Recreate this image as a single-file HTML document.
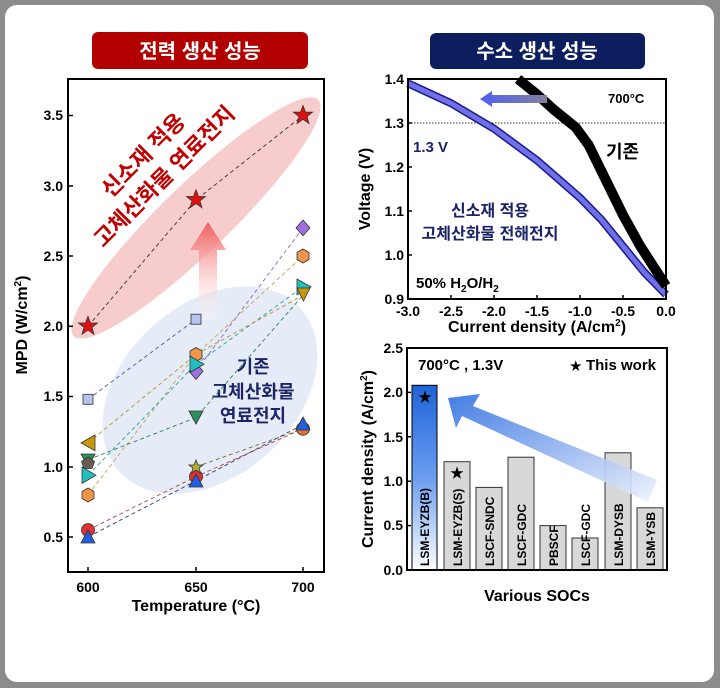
<!DOCTYPE html>
<html><head><meta charset="utf-8"><style>
html,body{margin:0;padding:0;background:#fff;}
svg{display:block;}
text{font-family:"Liberation Sans","Noto Sans CJK KR",sans-serif;font-weight:bold;}
</style></head><body>
<svg width="720" height="688" viewBox="0 0 720 688" xmlns="http://www.w3.org/2000/svg">
<defs>
<linearGradient id="upar" x1="0" y1="1" x2="0" y2="0"><stop offset="0" stop-color="#fff" stop-opacity="0.2"/><stop offset="1" stop-color="#f06060"/></linearGradient>
<linearGradient id="barg" x1="0" y1="1" x2="0" y2="0"><stop offset="0" stop-color="#ffffff"/><stop offset="0.5" stop-color="#6a9ef0"/><stop offset="1" stop-color="#1e63d8"/></linearGradient>
<linearGradient id="bar2" x1="1" y1="1" x2="0" y2="0"><stop offset="0" stop-color="#eef3fd"/><stop offset="1" stop-color="#2f6fe0"/></linearGradient>
<linearGradient id="lar" x1="1" y1="0" x2="0" y2="0"><stop offset="0" stop-color="#8080a0"/><stop offset="1" stop-color="#5060f0"/></linearGradient>
</defs>
<rect x="0" y="0" width="720" height="688" fill="#8c8c8c"/>
<rect x="5" y="5" width="709" height="677" rx="12" fill="#fff"/>

<!-- LEFT -->
<rect x="92" y="32" width="216" height="37" rx="6" fill="#b20000"/>
<text x="200" y="58" font-size="20" fill="#fff" text-anchor="middle">전력 생산 성능</text>

<ellipse cx="210" cy="390" rx="122" ry="86" transform="rotate(-42 210 390)" fill="#e6ecf7"/>
<ellipse cx="196" cy="218" rx="170" ry="34" transform="rotate(-44 196 218)" fill="#f6cccc"/>
<polygon points="199,320 199,250 190,250 208,222 226,250 217,250 217,320" fill="url(#upar)"/>

<text transform="translate(143 155) rotate(-45)" y="8" font-size="22" fill="#c00000" text-anchor="middle">신소재 적용</text>
<text transform="translate(164 176) rotate(-45)" y="8" font-size="22" fill="#c00000" text-anchor="middle">고체산화물 연료전지</text>
<g fill="#1a2466" font-size="18" text-anchor="middle">
<text x="253" y="373">기존</text>
<text x="253" y="398">고체산화물</text>
<text x="253" y="422">연료전지</text>
</g>

<g fill="none" stroke-width="0.9" stroke-dasharray="4,3">
<polyline points="88,326.3 196,199.8 303,115.5" stroke="#333"/>
<polyline points="88,399.3 196,319.2" stroke="#4a5aa8"/>
<polyline points="196,371.2 303,227.9" stroke="#8b64c8"/>
<polyline points="88,494.9 196,354.4 303,256" stroke="#c8a050"/>
<polyline points="88,475.2 196,364.2 303,286.9" stroke="#2aa0a0"/>
<polyline points="88,442.9 196,354.4 303,295.3" stroke="#b8902a"/>
<polyline points="88,459.7 196,417.6 303,295.3" stroke="#2e7d5a"/>
<polyline points="88,530 196,476.6 303,428.8" stroke="#c04040"/>
<polyline points="88,537 196,480.8 303,424.6" stroke="#2a3a80"/>
<polyline points="196,466.8 303,428.8" stroke="#707030"/>
</g>
<g stroke="#333" stroke-width="0.8">
<polygon points="196,189.8 198.5,196.5 205.5,196.5 200,200.8 202,207.8 196,203.6 190,207.8 192,200.8 186.5,196.5 193.5,196.5" fill="#e01010"/>
<polygon points="303,105.5 305.5,112.2 312.5,112.2 307,116.5 309,123.5 303,119.3 297,123.5 299,116.5 293.5,112.2 300.5,112.2" fill="#e01010"/>
<polygon points="88,316.3 90.5,323 97.5,323 92,327.3 94,334.3 88,330.1 82,334.3 84,327.3 78.5,323 85.5,323" fill="#e01010"/>
<rect x="83" y="394.3" width="10" height="10" fill="#b8c4f0"/>
<rect x="191" y="314.2" width="10" height="10" fill="#b8c4f0"/>
<polygon points="303,220 310,227.9 303,235.8 296,227.9" fill="#a070e0"/>
<polygon points="196,363 203,371.2 196,379.4 189,371.2" fill="#a070e0"/>
<polygon points="88,488 94,491.5 94,498.5 88,502 82,498.5 82,491.5" fill="#f0954a"/>
<polygon points="196,347.5 202,351 202,358 196,361.5 190,358 190,351" fill="#f0954a"/>
<polygon points="303,249 309,252.5 309,259.5 303,263 297,259.5 297,252.5" fill="#f0954a"/>
<polygon points="82,467 96,475.2 82,483.4" fill="#20c0c0"/>
<polygon points="190,356 204,364.2 190,372.4" fill="#20c0c0"/>
<polygon points="297,279 311,286.9 297,294.8" fill="#20c0c0"/>
<polygon points="95,435 81,442.9 95,450.8" fill="#c8980a"/>
<polygon points="297,288 310,288 303.5,301" fill="#c8980a"/>
<polygon points="81,454 95,454 88,467" fill="#2e9060"/>
<polygon points="189,411 203,411 196,424" fill="#2e9060"/>
<polygon points="88,457 94.5,461.5 92,468.5 84,468.5 81.5,461.5" fill="#6a5a50"/>
<circle cx="88" cy="530" r="6.5" fill="#e03030"/>
<circle cx="196" cy="476.6" r="6.5" fill="#e03030"/>
<circle cx="303" cy="428.8" r="6.5" fill="#e07030"/>
<polygon points="196,460 198,465 203,465 199,468 200.5,473 196,470 191.5,473 193,468 189,465 194,465" fill="#b0b030"/>
<polygon points="88,530 95,543 81,543" fill="#2060e0"/>
<polygon points="196,474 203,487 189,487" fill="#2060e0"/>
<polygon points="303,417 310,430 296,430" fill="#2060e0"/>
</g>

<rect x="68" y="79" width="256" height="493" fill="none" stroke="#000" stroke-width="2"/>
<g stroke="#000" stroke-width="1.5">
<line x1="68" y1="115.5" x2="73" y2="115.5"/><line x1="68" y1="186" x2="73" y2="186"/><line x1="68" y1="256" x2="73" y2="256"/><line x1="68" y1="326.3" x2="73" y2="326.3"/><line x1="68" y1="396.5" x2="73" y2="396.5"/><line x1="68" y1="467" x2="73" y2="467"/><line x1="68" y1="537" x2="73" y2="537"/>
<line x1="88" y1="572" x2="88" y2="567"/><line x1="196" y1="572" x2="196" y2="567"/><line x1="303" y1="572" x2="303" y2="567"/>
</g>
<g font-size="14" text-anchor="end">
<text x="63" y="120">3.5</text><text x="63" y="191">3.0</text><text x="63" y="261">2.5</text><text x="63" y="331">2.0</text><text x="63" y="401">1.5</text><text x="63" y="472">1.0</text><text x="63" y="542">0.5</text>
</g>
<g font-size="14" text-anchor="middle">
<text x="88" y="592">600</text><text x="196" y="592">650</text><text x="303" y="592">700</text>
</g>
<text x="196" y="611" font-size="16" text-anchor="middle">Temperature (°C)</text>
<text transform="translate(27 325) rotate(-90)" font-size="16" text-anchor="middle">MPD (W/cm<tspan font-size="10" dy="-6">2</tspan><tspan dy="6">)</tspan></text>

<!-- RIGHT TOP -->
<rect x="430" y="33" width="215" height="36" rx="6" fill="#0d1e5e"/>
<text x="537" y="58" font-size="20" fill="#fff" text-anchor="middle">수소 생산 성능</text>
<line x1="408" y1="123" x2="666" y2="123" stroke="#333" stroke-width="1" stroke-dasharray="1.5,1.5"/>
<polyline points="408,83.4 451,103.2 494,128.7 537,160.4 580,197.8 601.5,219.8 623,246.2 644.5,272.6 666,294.6" fill="none" stroke="#1a1a8a" stroke-width="8"/>
<polyline points="408,83.4 451,103.2 494,128.7 537,160.4 580,197.8 601.5,219.8 623,246.2 644.5,272.6 666,294.6" fill="none" stroke="#7070e8" stroke-width="5"/>
<polyline points="518,79 537,94.4 554,109.8 575.7,127.4 588.6,145 605.8,180 623,215 640.2,246 657.4,272.6 666,285.8" fill="none" stroke="#000" stroke-width="10"/>
<polygon points="480,99 492,91 492,95 547,95 547,103 492,103 492,107" fill="url(#lar)"/>
<rect x="408" y="79" width="258" height="220" fill="none" stroke="#000" stroke-width="2"/>
<g stroke="#000" stroke-width="1.5">
<line x1="408" y1="123" x2="412" y2="123"/><line x1="408" y1="167" x2="412" y2="167"/><line x1="408" y1="211" x2="412" y2="211"/><line x1="408" y1="255" x2="412" y2="255"/>
<line x1="451" y1="299" x2="451" y2="295"/><line x1="494" y1="299" x2="494" y2="295"/><line x1="537" y1="299" x2="537" y2="295"/><line x1="580" y1="299" x2="580" y2="295"/><line x1="623" y1="299" x2="623" y2="295"/>
</g>
<g font-size="14" text-anchor="end">
<text x="404" y="84">1.4</text><text x="404" y="128">1.3</text><text x="404" y="172">1.2</text><text x="404" y="216">1.1</text><text x="404" y="260">1.0</text><text x="404" y="304">0.9</text>
</g>
<g font-size="14" text-anchor="middle">
<text x="408" y="316">-3.0</text><text x="451" y="316">-2.5</text><text x="494" y="316">-2.0</text><text x="537" y="316">-1.5</text><text x="580" y="316">-1.0</text><text x="623" y="316">-0.5</text><text x="666" y="316">0.0</text>
</g>
<text x="537" y="332" font-size="16" text-anchor="middle">Current density (A/cm<tspan font-size="10" dy="-6">2</tspan><tspan dy="6">)</tspan></text>
<text transform="translate(370 189) rotate(-90)" font-size="16" text-anchor="middle">Voltage (V)</text>
<text x="608" y="103" font-size="13">700°C</text>
<text x="413" y="152" font-size="15" fill="#1a2466">1.3 V</text>
<text x="606" y="158" font-size="18">기존</text>
<text x="490" y="216" font-size="16" fill="#1a2466" text-anchor="middle">신소재 적용</text>
<text x="490" y="239" font-size="16" fill="#1a2466" text-anchor="middle">고체산화물 전해전지</text>
<text x="416" y="288" font-size="15">50% H<tspan font-size="10" dy="4">2</tspan><tspan dy="-4">O/H</tspan><tspan font-size="10" dy="4">2</tspan></text>

<!-- RIGHT BOTTOM -->
<g stroke="#333" stroke-width="1">
<rect x="412" y="385.3" width="25" height="184.7" fill="url(#barg)" stroke="#000"/>
<rect x="444" y="461.7" width="26" height="108.3" fill="#d8d8d8"/>
<rect x="476" y="487.4" width="26" height="82.6" fill="#d8d8d8"/>
<rect x="508" y="457.2" width="26" height="112.8" fill="#d8d8d8"/>
<rect x="540" y="525.6" width="26" height="44.4" fill="#d8d8d8"/>
<rect x="572" y="538" width="26" height="32" fill="#d8d8d8"/>
<rect x="605" y="452.8" width="26" height="117.2" fill="#d8d8d8"/>
<rect x="637" y="507.8" width="26" height="62.2" fill="#d8d8d8"/>
</g>
<polygon points="657,480 648,502 462,416 456,428 448,398 480,394 473,406" fill="url(#bar2)" opacity="0.9"/>
<g font-size="12" text-anchor="start">
<text transform="translate(429 566) rotate(-90)">LSM-EYZB(B)</text>
<text transform="translate(462 566) rotate(-90)">LSM-EYZB(S)</text>
<text transform="translate(494 566) rotate(-90)">LSCF-SNDC</text>
<text transform="translate(526 566) rotate(-90)">LSCF-GDC</text>
<text transform="translate(558 566) rotate(-90)">PBSCF</text>
<text transform="translate(590 566) rotate(-90)">LSCF-GDC</text>
<text transform="translate(623 566) rotate(-90)">LSM-DYSB</text>
<text transform="translate(655 566) rotate(-90)">LSM-YSB</text>
</g>
<text x="425" y="402" font-size="14" text-anchor="middle">★</text>
<text x="457" y="478" font-size="14" text-anchor="middle">★</text>
<rect x="407" y="348" width="260" height="222" fill="none" stroke="#000" stroke-width="2"/>
<g stroke="#000" stroke-width="1.5">
<line x1="407" y1="392.4" x2="411" y2="392.4"/><line x1="407" y1="436.8" x2="411" y2="436.8"/><line x1="407" y1="481.2" x2="411" y2="481.2"/><line x1="407" y1="525.6" x2="411" y2="525.6"/>
</g>
<g font-size="14" text-anchor="end">
<text x="403" y="353">2.5</text><text x="403" y="397">2.0</text><text x="403" y="442">1.5</text><text x="403" y="486">1.0</text><text x="403" y="530">0.5</text><text x="403" y="575">0.0</text>
</g>
<text x="418" y="370" font-size="15">700°C , 1.3V</text>
<text x="656" y="370" font-size="15" text-anchor="end"><tspan font-size="12">★</tspan> This work</text>
<text transform="translate(373 459) rotate(-90)" font-size="16" text-anchor="middle">Current density (A/cm<tspan font-size="10" dy="-6">2</tspan><tspan dy="6">)</tspan></text>
<text x="537" y="601" font-size="16" text-anchor="middle">Various SOCs</text>
</svg>
</body></html>
